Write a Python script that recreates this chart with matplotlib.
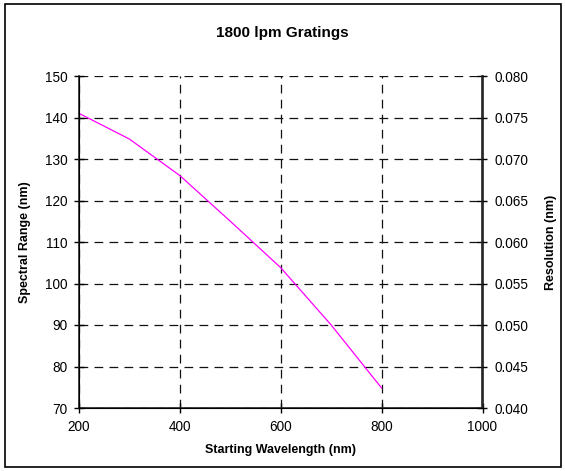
import matplotlib
matplotlib.use("Agg")
import matplotlib.pyplot as plt
from matplotlib.patches import Rectangle
from matplotlib.ticker import FormatStrFormatter

wavelength = [200, 300, 400, 500, 600, 700, 800]
spectral_range = [141.0, 134.8, 126.0, 115.0, 103.8, 90.0, 74.8]
x_ticks = [200, 400, 600, 800, 1000]
y_ticks = [70, 80, 90, 100, 110, 120, 130, 140, 150]
res_ticks = [0.040, 0.045, 0.050, 0.055, 0.060, 0.065, 0.070, 0.075, 0.080]

plt.rcParams['font.family'] = ['Liberation Sans', 'DejaVu Sans']

W, H = 565, 471
fig = plt.figure(figsize=(W / 100, H / 100), dpi=100)
ax = fig.add_axes([79 / W, 1 - 408 / H, (482.5 - 79) / W, (408 - 76) / H])

ax.plot(wavelength, spectral_range, color='#ff00ff', lw=0.9, zorder=3)
ax.set_xlim(200, 1000)
ax.set_ylim(70, 150)
ax.set_xticks(x_ticks)
ax.set_yticks(y_ticks)
ax.grid(True, color='#111111', linestyle=(0, (7, 5)), lw=0.9)
ax.spines['top'].set_visible(False)
for s in ['left', 'bottom', 'right']:
    ax.spines[s].set_linewidth(1.2)
    ax.spines[s].set_color('#222222')
ax.tick_params(direction='inout', length=7, width=1, labelsize=9.8, pad=5)
ax.set_xlabel('Starting Wavelength (nm)', fontsize=9, fontweight='bold', labelpad=7)
ax.set_ylabel('Spectral Range (nm)', fontsize=9, fontweight='bold', labelpad=10)

ax2 = ax.twinx()
ax2.set_ylim(0.040, 0.080)
ax2.set_yticks(res_ticks)
ax2.yaxis.set_major_formatter(FormatStrFormatter('%.3f'))
ax2.spines['top'].set_visible(False)
ax2.spines['right'].set_linewidth(1.2)
ax2.spines['right'].set_color('#222222')
ax2.tick_params(direction='inout', length=7, width=1, labelsize=9.8, pad=5)
ax2.set_ylabel('Resolution (nm)', fontsize=9, fontweight='bold', labelpad=12)

fig.text(0.5, 1 - 33 / H, '1800 lpm Gratings', ha='center', va='center',
         fontsize=11, fontweight='bold')

fig.patches.append(Rectangle((5 / W, 4 / H), (561 - 5) / W, (467 - 4) / H,
                             transform=fig.transFigure, fill=False,
                             edgecolor='black', lw=1.2))

fig.savefig('out.png', dpi=100)
